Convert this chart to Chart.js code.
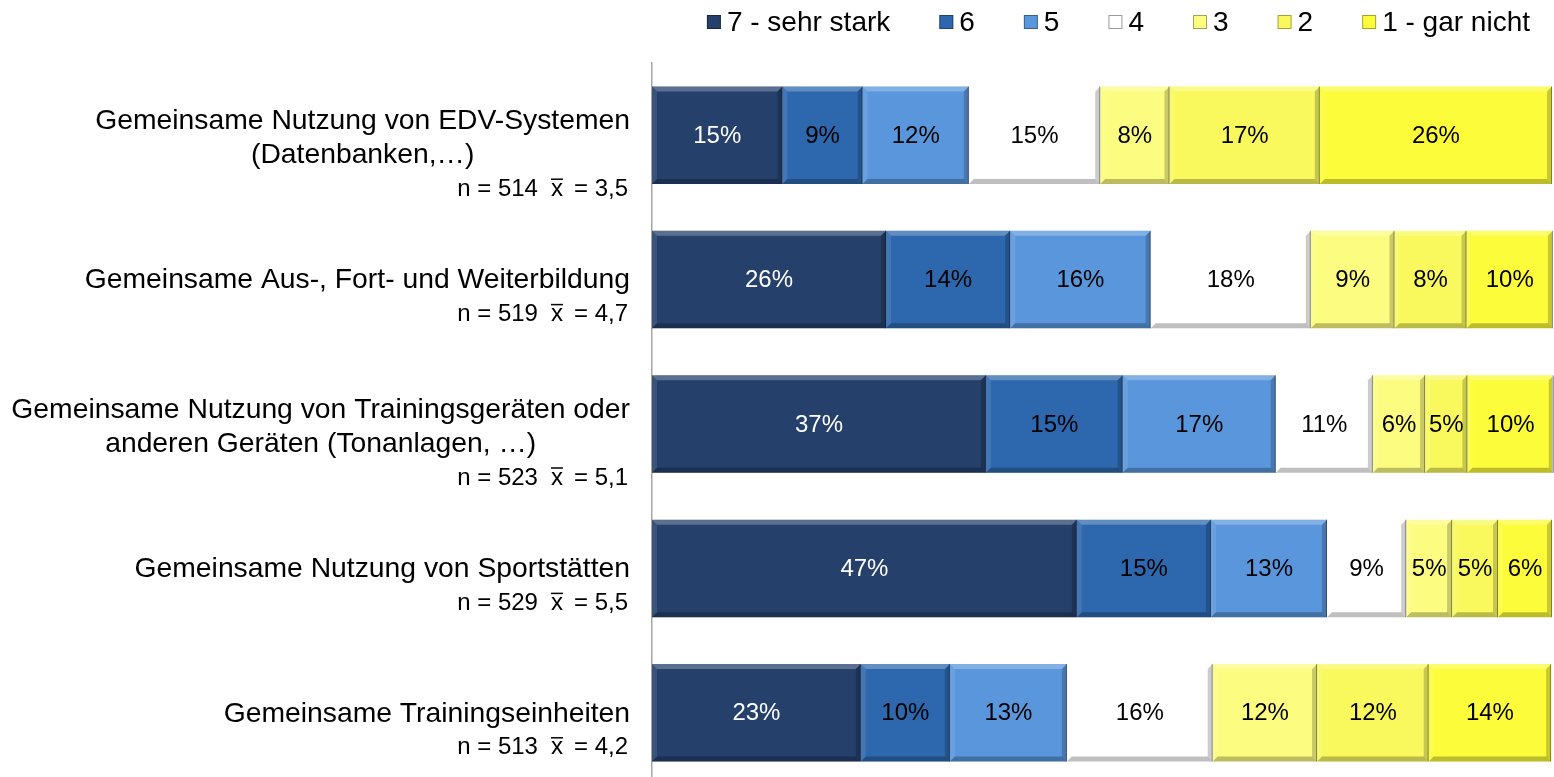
<!DOCTYPE html>
<html>
<head>
<meta charset="utf-8">
<script src="https://cdn.jsdelivr.net/npm/chart.js@4.4.0/dist/chart.umd.min.js"></script>
<style>
html, body { margin: 0; padding: 0; background: #fff; overflow: hidden; }
#wrap { width: 1554px; height: 790px; position: relative; }
</style>
</head>
<body>
<div id="wrap"><canvas id="mycanvas"></canvas></div>
<script>
// categories (title lines), sample sizes and means
var categories = [
	["Gemeinsame Nutzung von EDV-Systemen", "(Datenbanken,…)"],
	["Gemeinsame Aus-, Fort- und Weiterbildung"],
	["Gemeinsame Nutzung von Trainingsgeräten oder", "anderen Geräten (Tonanlagen, …)"],
	["Gemeinsame Nutzung von Sportstätten"],
	["Gemeinsame Trainingseinheiten"]
];
var nValues = [514, 519, 523, 529, 513];
var means = ["3,5", "4,7", "5,1", "5,5", "4,2"];

var seriesNames = ["7 - sehr stark", "6", "5", "4", "3", "2", "1 - gar nicht"];

// shares in percent
var s7 = [14.5, 26.0, 37.1, 47.2, 23.2];
var s6 = [8.9, 13.8, 15.2, 14.9, 9.9];
var s5 = [11.8, 15.6, 17.0, 12.9, 13.0];
var s4 = [14.6, 17.8, 10.8, 8.8, 16.2];
var s3 = [7.7, 9.3, 5.8, 5.1, 11.6];
var s2 = [16.7, 8.0, 4.7, 5.1, 12.4];
var s1 = [25.8, 9.6, 9.6, 6.0, 13.6];

var seriesValues = [s7, s6, s5, s4, s3, s2, s1];
var seriesColors = ['#24406B', '#2D67AD', '#5A96DB', '#FFFFFF', '#FCFC80', '#F9F95E', '#FCFC3A'];
var labelColors = ['#FFFFFF', '#000000', '#000000', '#000000', '#000000', '#000000', '#000000'];

var FONT = '"Liberation Sans", Arial, sans-serif';

var datasets = [];
for (var i = 0; i < seriesNames.length; i++) {
	datasets.push({
		label: seriesNames[i],
		data: seriesValues[i],
		backgroundColor: seriesColors[i],
		borderWidth: 0
	});
}

// bevel look of the bars
var bevelPlugin = {
	id: 'bevel',
	afterDatasetsDraw: function(chart) {
		var ctx = chart.ctx;
		var b = 5;
		ctx.save();
		for (var d = 0; d < chart.data.datasets.length; d++) {
			var meta = chart.getDatasetMeta(d);
			meta.data.forEach(function(el) {
				var l = Math.min(el.x, el.base), r = Math.max(el.x, el.base);
				var t = el.y - el.height / 2, btm = el.y + el.height / 2;
				if (r - l < 2 * b) return;
				function quad(pts, col) {
					ctx.beginPath();
					ctx.moveTo(pts[0], pts[1]);
					for (var k = 2; k < pts.length; k += 2) ctx.lineTo(pts[k], pts[k + 1]);
					ctx.closePath();
					ctx.fillStyle = col;
					ctx.fill();
				}
				quad([l, t, r, t, r - b, t + b, l + b, t + b], 'rgba(255,255,255,0.25)');
				quad([l, t, l + b, t + b, l + b, btm - b, l, btm], 'rgba(255,255,255,0.1)');
				quad([r, t, r, btm, r - b, btm - b, r - b, t + b], 'rgba(0,0,0,0.2)');
				quad([l, btm, r, btm, r - b, btm - b, l + b, btm - b], 'rgba(0,0,0,0.25)');
				ctx.strokeStyle = 'rgba(0,0,0,0.35)';
				ctx.lineWidth = 1;
				ctx.beginPath();
				ctx.moveTo(r - 0.5, t);
				ctx.lineTo(r - 0.5, btm);
				ctx.stroke();
			});
		}
		ctx.restore();
	}
};

// percentage labels in the middle of each segment
var valueLabels = {
	id: 'valueLabels',
	afterDatasetsDraw: function(chart) {
		var ctx = chart.ctx;
		ctx.save();
		ctx.font = '24px ' + FONT;
		ctx.textAlign = 'center';
		ctx.textBaseline = 'middle';
		chart.data.datasets.forEach(function(ds, d) {
			var meta = chart.getDatasetMeta(d);
			meta.data.forEach(function(el, j) {
				ctx.fillStyle = labelColors[d];
				ctx.fillText(Math.round(ds.data[j]) + '%', (el.x + el.base) / 2, el.y + 1);
			});
		});
		ctx.restore();
	}
};

// category texts left of the axis
var categoryLabels = {
	id: 'categoryLabels',
	afterDraw: function(chart) {
		var ctx = chart.ctx;
		var scale = chart.scales.y;
		var R = 630;
		ctx.save();
		ctx.fillStyle = '#000';
		ctx.textBaseline = 'middle';
		for (var i = 0; i < categories.length; i++) {
			var c = scale.getPixelForValue(i);
			var lines = categories[i];
			ctx.font = '28.3px ' + FONT;
			var nY;
			if (lines.length > 1) {
				var maxW = 0;
				lines.forEach(function(s) { maxW = Math.max(maxW, ctx.measureText(s).width); });
				ctx.textAlign = 'center';
				ctx.fillText(lines[0], R - maxW / 2, c - 14);
				ctx.fillText(lines[1], R - maxW / 2, c + 20);
				nY = c + 54;
			} else {
				ctx.textAlign = 'right';
				ctx.fillText(lines[0], R, c + 1);
				nY = c + 35;
			}
			// n = ...  x̄ = ...
			ctx.font = '24px ' + FONT;
			ctx.textAlign = 'left';
			var p1 = 'n = ' + nValues[i], p2 = 'x', p3 = '= ' + means[i];
			var w1 = ctx.measureText(p1).width, w2 = ctx.measureText(p2).width, w3 = ctx.measureText(p3).width;
			var g1 = 13, g2 = 11;
			var x0 = 628 - (w1 + g1 + w2 + g2 + w3);
			ctx.fillText(p1, x0, nY);
			ctx.fillText(p2, x0 + w1 + g1, nY);
			ctx.fillText(p3, x0 + w1 + g1 + w2 + g2, nY);
			ctx.strokeStyle = '#000';
			ctx.lineWidth = 1.5;
			ctx.beginPath();
			ctx.moveTo(x0 + w1 + g1, nY - 10);
			ctx.lineTo(x0 + w1 + g1 + w2, nY - 10);
			ctx.stroke();
		}
		ctx.restore();
	}
};

// legend row at the top right
var topLegend = {
	id: 'topLegend',
	afterDraw: function(chart) {
		var ctx = chart.ctx;
		ctx.save();
		ctx.font = '28px ' + FONT;
		ctx.textBaseline = 'middle';
		ctx.textAlign = 'left';
		var box = 14, gapText = 6, gapItem = 49, right = 1530, y = 22;
		var widths = chart.data.datasets.map(function(ds) { return box + gapText + ctx.measureText(ds.label).width; });
		var total = widths.reduce(function(a, b) { return a + b; }, 0) + gapItem * (widths.length - 1);
		var x = right - total;
		chart.data.datasets.forEach(function(ds, d) {
			ctx.fillStyle = ds.backgroundColor;
			ctx.fillRect(x, y - 7, box, box);
			ctx.strokeStyle = d === 3 ? '#9A9A9A' : 'rgba(0,0,0,0.35)';
			ctx.lineWidth = 1;
			ctx.strokeRect(x + 0.5, y - 6.5, box - 1, box - 1);
			ctx.fillStyle = '#000';
			ctx.fillText(ds.label, x + box + gapText, y + 1);
			x += widths[d] + gapItem;
		});
		ctx.restore();
	}
};

var ctx = document.getElementById('mycanvas');

var barGraph = new Chart(ctx, {
	type: 'bar',
	data: {
		labels: categories.map(function(c) { return c.join(' '); }),
		datasets: datasets
	},
	options: {
		indexAxis: 'y',
		responsive: true,
		maintainAspectRatio: false,
		animation: false,
		layout: { padding: { top: 63, right: 2, bottom: 5, left: 0 } },
		datasets: { bar: { categoryPercentage: 1, barPercentage: 0.675 } },
		scales: {
			x: { stacked: true, min: 0, max: 100, display: false },
			y: {
				stacked: true,
				grid: { display: false },
				border: { display: true, color: '#A6A6A6', width: 1.5 },
				ticks: { display: false },
				afterFit: function(scale) { scale.width = 652; }
			}
		},
		plugins: {
			legend: { display: false },
			tooltip: { enabled: false }
		}
	},
	plugins: [bevelPlugin, valueLabels, categoryLabels, topLegend]
});
</script>
</body>
</html>
